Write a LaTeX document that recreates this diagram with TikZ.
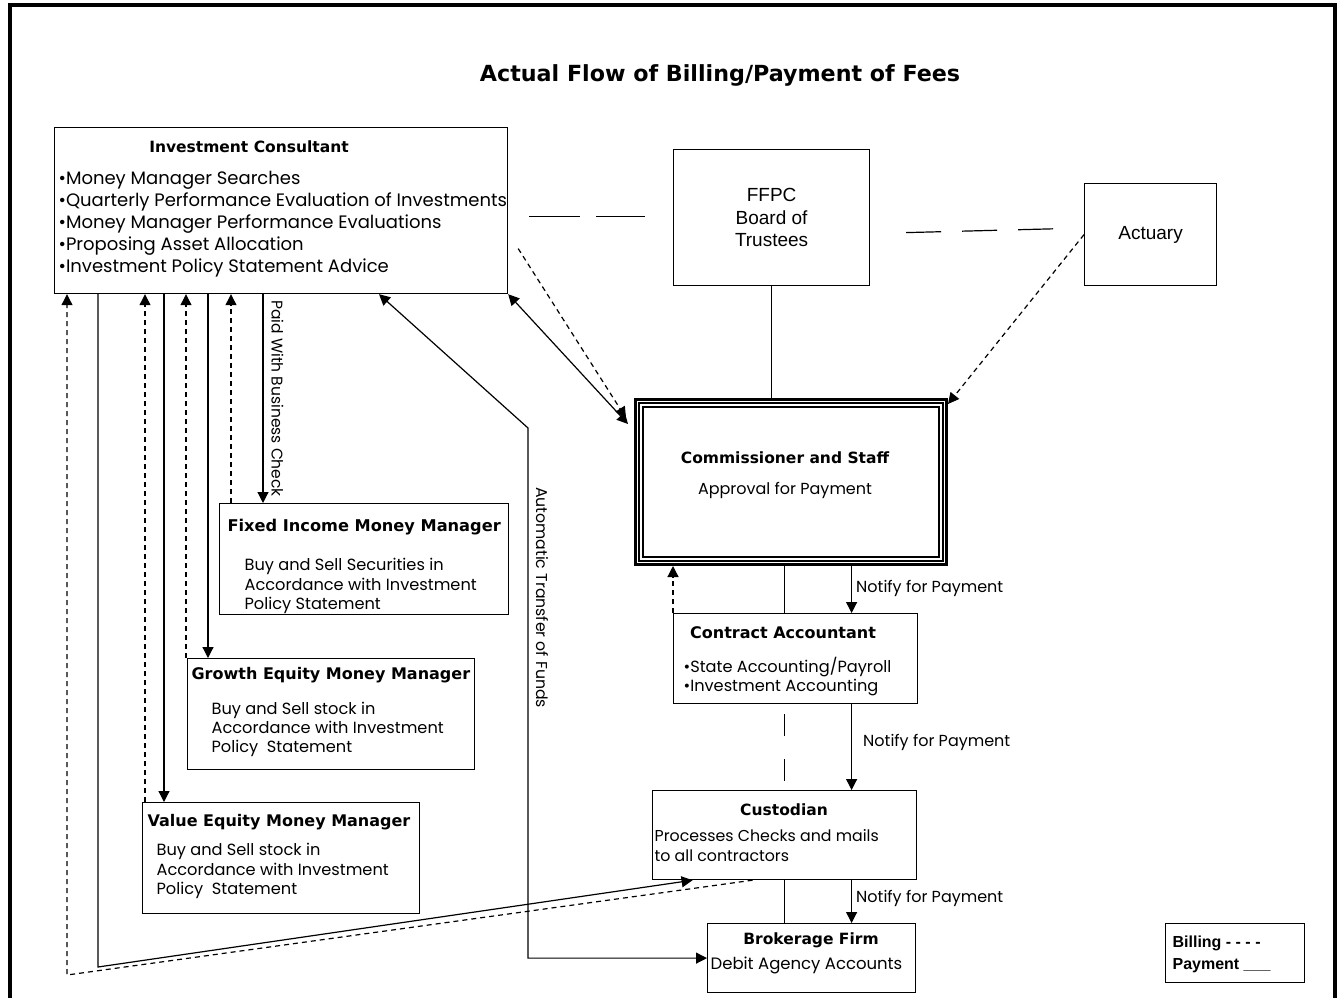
\documentclass[tikz,border=0pt]{standalone}
\usepackage{fontspec}
\setmainfont{Poppins}
\newfontfamily\headfont{DejaVu Sans}
\newfontfamily\boardfont{Liberation Sans}
\usetikzlibrary{arrows.meta}

\begin{document}
\begin{tikzpicture}[x=1pt,y=-1pt,line width=1.2pt,
                    >={Triangle[length=11pt,width=11pt]},
                    main box/.style={draw,anchor=north west,inner sep=0pt},
                    head/.style={font=\headfont\bfseries\fontsize{15.5}{18}\selectfont,inner sep=0pt},
                    body/.style={font=\fontsize{16.2}{19.5}\selectfont,align=left,anchor=north west,inner sep=0pt},
                    board/.style={font=\boardfont\fontsize{19}{22.5}\selectfont,align=center,inner sep=0pt},
                    note/.style={font=\fontsize{16}{18}\selectfont,anchor=west,inner sep=0pt},
                    pay/.style={->},
                    bill/.style={->,dash pattern=on 5pt off 4pt}]

  \useasboundingbox (0,0) rectangle (1338,998);
  \draw[line width=4pt] (10,998) -- (10,5) -- (1335,5) -- (1335,998);

  \node[font=\headfont\bfseries\fontsize{22.2}{24}\selectfont] (0) at (720,75) {Actual Flow of Billing/Payment of Fees};

  % boxes
  \node[main box,minimum width=453pt,minimum height=166pt] (1) at (54,127) {};
  \node[main box,minimum width=289pt,minimum height=111pt] (2) at (219,503) {};
  \node[main box,minimum width=287pt,minimum height=111pt] (3) at (187,658) {};
  \node[main box,minimum width=277pt,minimum height=111pt] (4) at (142,802) {};
  \node[main box,minimum width=196pt,minimum height=136pt] (5) at (673,149) {};
  \node[main box,minimum width=132pt,minimum height=102pt] (6) at (1084,183) {};
  \node[main box,minimum width=311pt,minimum height=165pt,line width=3pt] (7) at (634,398) {};
  \node[main box,minimum width=244pt,minimum height=90pt] (8) at (673,613) {};
  \node[main box,minimum width=264pt,minimum height=89pt] (9) at (652,790) {};
  \node[main box,minimum width=208pt,minimum height=69pt] (10) at (707,923) {};
  \node[main box,minimum width=139pt,minimum height=59pt] (11) at (1165,923) {};

  \draw[line width=1.2pt] ([shift={(5,5)}]7.north west) rectangle ([shift={(-5,-5)}]7.south east);
  \draw[line width=2.5pt] ([shift={(9,9)}]7.north west) rectangle ([shift={(-9,-9)}]7.south east);

  % texts
  \node[head] (1a) at (249,147) {Investment Consultant};
  \node[body,font=\fontsize{18}{21.8}\selectfont] (1b) at (58,171)
    {•Money Manager Searches\\•Quarterly Performance Evaluation of Investments\\•Money Manager Performance Evaluations\\•Proposing Asset Allocation\\•Investment Policy Statement Advice};
  \node[head,anchor=west,font=\headfont\bfseries\fontsize{16.2}{18}\selectfont] (2a) at (227,527) {Fixed Income Money Manager};
  \node[body] (2b) at (244,558) {Buy and Sell Securities in\\Accordance with Investment\\Policy Statement};
  \node[head,anchor=west,font=\headfont\bfseries\fontsize{16}{18}\selectfont] (3a) at (191,675) {Growth Equity Money Manager};
  \node[body,font=\fontsize{16.2}{19}\selectfont] (3b) at (211,702) {Buy and Sell stock in\\Accordance with Investment\\Policy\ \ Statement};
  \node[head,anchor=west,font=\headfont\bfseries\fontsize{16}{18}\selectfont] (4a) at (147,822) {Value Equity Money Manager};
  \node[body] (4b) at (156,843) {Buy and Sell stock in\\Accordance with Investment\\Policy\ \ Statement};
  \node[board] (5a) at (5) {FFPC\\Board of\\Trustees};
  \node[board] (6a) at (6) {Actuary};
  \node[head] (7a) at (785,458) {Commissioner and Staff};
  \node[note,anchor=center] (7b) at (785,490) {Approval for Payment};
  \node[head,font=\headfont\bfseries\fontsize{16}{18}\selectfont] (8a) at (783,633) {Contract Accountant};
  \node[body,font=\fontsize{16.2}{19}\selectfont] (8b) at (683,657) {•State Accounting/Payroll\\•Investment Accounting};
  \node[head] (9a) at (784,810) {Custodian};
  \node[body,font=\fontsize{15.8}{20}\selectfont] (9b) at (654,829) {Processes Checks and mails\\to all contractors};
  \node[head] (10a) at (811,940) {Brokerage Firm};
  \node[note,font=\fontsize{16.5}{18}\selectfont] (10b) at (710,965) {Debit Agency Accounts};
  \node[body,font=\boardfont\bfseries\fontsize{16}{22}\selectfont] (11a) at (1172,935) {Billing - - - -\\Payment \_\_\_};

  % links between consultant and money managers
  \foreach \n/\d in {1/13,2/44,3/91,4/110,5/132,6/154,7/177,8/209,9/325}
    \coordinate (b\n) at ([xshift=\d pt]1.south west);
  \coordinate (d1) at (67,975);
  \coordinate (d2) at (98,967);
  \coordinate (t1) at (528,428);

  \draw[bill] (b7 |- 2.north) -- (b7);
  \draw[pay] (b8) -- node[note,font=\fontsize{15.5}{18}\selectfont,rotate=-90,anchor=south,inner sep=8pt] (n8) {Paid With Business Check} (b8 |- 2.north);
  \draw[bill] (b5 |- 3.north) -- (b5);
  \draw[pay] (b6) -- (b6 |- 3.north);
  \draw[bill] (b3 |- 4.north) -- (b3);
  \draw[pay] (b4) -- (b4 |- 4.north);

  \draw[pay] (b2) -- (b2 |- d2) -- ([xshift=-92pt]9.south);
  \draw[bill] ([xshift=-32pt]9.south) -- (b1 |- d1) -- (b1);
  \draw[<->] (b9) -- (t1) -- node[note,font=\fontsize{15.7}{18}\selectfont,pos=0.32,rotate=-90,anchor=south,inner sep=8pt] (n9) {Automatic Transfer of Funds} (t1 |- 10.west) -- (10.west);

  % board, actuary and commissioner
  \draw[dash pattern=on 51pt off 16pt] ([xshift=21pt,yshift=-6pt]1.east) -- ([xshift=-28pt,yshift=1pt]5.west);
  \draw[dash pattern=on 35pt off 21pt] ([xshift=36pt,yshift=-15pt]5.east) -- ([xshift=-22pt,yshift=6pt]6.west);
  \draw (5.south) -- (5.south |- 7.north);
  \draw[<->] (1.south east) -- ([xshift=-6pt,yshift=-26pt]7.north west);
  \draw[bill] ([xshift=10pt,yshift=-38pt]1.east) -- ([xshift=-8pt,yshift=-20pt]7.north west);
  \draw[bill] (6.west) -- ([yshift=-6pt]7.north east);

  % payment chain
  \coordinate (k1) at ([xshift=-11pt]8.north);
  \coordinate (k2) at ([xshift=56pt]8.north);
  \draw (k1 |- 7.south) -- (k1);
  \draw[pay] (k2 |- 7.south) -- node[note,pos=0.48,xshift=4pt] (n1) {Notify for Payment} (k2);
  \draw[bill] (8.north west) -- (8.north west |- 7.south);
  \draw[dash pattern=on 22pt off 23pt,dash phase=35pt] (k1 |- 8.south) -- (k1 |- 9.north);
  \draw[pay] (k2 |- 8.south) -- node[note,pos=0.45,xshift=11pt] (n2) {Notify for Payment} (k2 |- 9.north);
  \draw (9.south) -- (9.south |- 10.north);
  \draw[pay] (k2 |- 9.south) -- node[note,pos=0.43,xshift=4pt] (n3) {Notify for Payment} (k2 |- 10.north);
\end{tikzpicture}
\end{document}
